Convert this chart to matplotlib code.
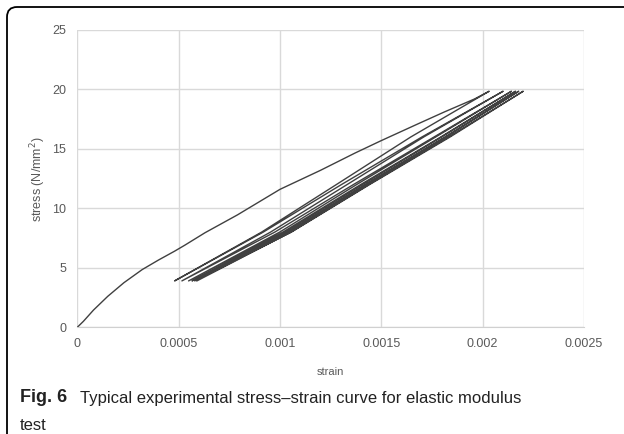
import matplotlib.pyplot as plt
from matplotlib.patches import FancyBboxPatch
from matplotlib.transforms import IdentityTransform

# first loading branch (from origin to first peak)
load0_strain = [0, 0.00003, 0.00008, 0.00015, 0.00023, 0.00032, 0.0004, 0.00048, 0.00053,
                0.00063, 0.00079, 0.001, 0.0012, 0.00137, 0.0015, 0.00168, 0.00181, 0.00196, 0.002032]
load0_stress = [0, 0.5, 1.45, 2.6, 3.75, 4.85, 5.65, 6.4, 6.9,
                7.95, 9.45, 11.6, 13.2, 14.65, 15.7, 17.1, 18.1, 19.2, 19.85]

# cyclic branches, strains read at these stress levels (low -> high)
branch_stress = [3.9, 8.0, 12.0, 16.0, 19.85]
unload_strain = [
    [0.00048, 0.000909, 0.001278, 0.001645, 0.002032],
    [0.000516, 0.000953, 0.001331, 0.001709, 0.002101],
    [0.000549, 0.000998, 0.001378, 0.001768, 0.002142],
    [0.000566, 0.001026, 0.001407, 0.001797, 0.002162],
    [0.000579, 0.00104, 0.001421, 0.001813, 0.002178],
    [0.00059, 0.001054, 0.001438, 0.001832, 0.0022],
]
reload_strain = [
    [0.00048, 0.000917, 0.001303, 0.00170, 0.002101],
    [0.000516, 0.000974, 0.001362, 0.00176, 0.002142],
    [0.000549, 0.001014, 0.001398, 0.001793, 0.002162],
    [0.000566, 0.00104, 0.001425, 0.001819, 0.002178],
    [0.000579, 0.001056, 0.001442, 0.001839, 0.0022],
]

x_ticks = [0, 0.0005, 0.001, 0.0015, 0.002, 0.0025]
x_labels = ['0', '0.0005', '0.001', '0.0015', '0.002', '0.0025']
y_ticks = [0, 5, 10, 15, 20, 25]

# stitch everything into one continuous record
xs = list(load0_strain)
ys = list(load0_stress)
for i in range(len(unload_strain)):
    xs += unload_strain[i][::-1]
    ys += branch_stress[::-1]
    if i < len(reload_strain):
        xs += reload_strain[i]
        ys += branch_stress

plt.rcParams['font.family'] = ['Liberation Sans', 'DejaVu Sans']

fig = plt.figure(figsize=(6.24, 4.34), dpi=100)
ax = fig.add_axes([0.1239, 0.2459, 0.812, 0.685])

ax.plot(xs, ys, color='#404040', lw=1.0)

ax.set_xlim(0, 0.0025)
ax.set_ylim(0, 25)
ax.set_xticks(x_ticks)
ax.set_xticklabels(x_labels)
ax.set_yticks(y_ticks)
ax.grid(True, color='#d9d9d9', lw=1.0)
ax.set_axisbelow(True)
for s in ['top', 'right', 'left']:
    ax.spines[s].set_visible(False)
ax.spines['bottom'].set_color('#d0d0d0')
ax.tick_params(length=0, labelsize=9, colors='#595959', pad=8)
ax.set_xlabel('strain', fontsize=8, color='#595959', labelpad=12)
ax.set_ylabel('stress (N/mm$^2$)', fontsize=9, color='#595959', labelpad=3)

# caption
fig.text(20 / 624, 1 - 398 / 434, 'Fig. 6', fontsize=13, va='center',
         weight='bold', color='#222222')
fig.text(80 / 624, 1 - 398 / 434, 'Typical experimental stress\u2013strain curve for elastic modulus',
         fontsize=12, va='center', color='#222222')
fig.text(20 / 624, 1 - 425 / 434, 'test', fontsize=12, va='center', color='#222222')

# rounded card border
card = FancyBboxPatch((7, -40), 800, 467, boxstyle='round,pad=0,rounding_size=10',
                      transform=IdentityTransform(), fill=False, ec='black', lw=1.3)
fig.patches.append(card)

fig.savefig('out.png', dpi=100)
